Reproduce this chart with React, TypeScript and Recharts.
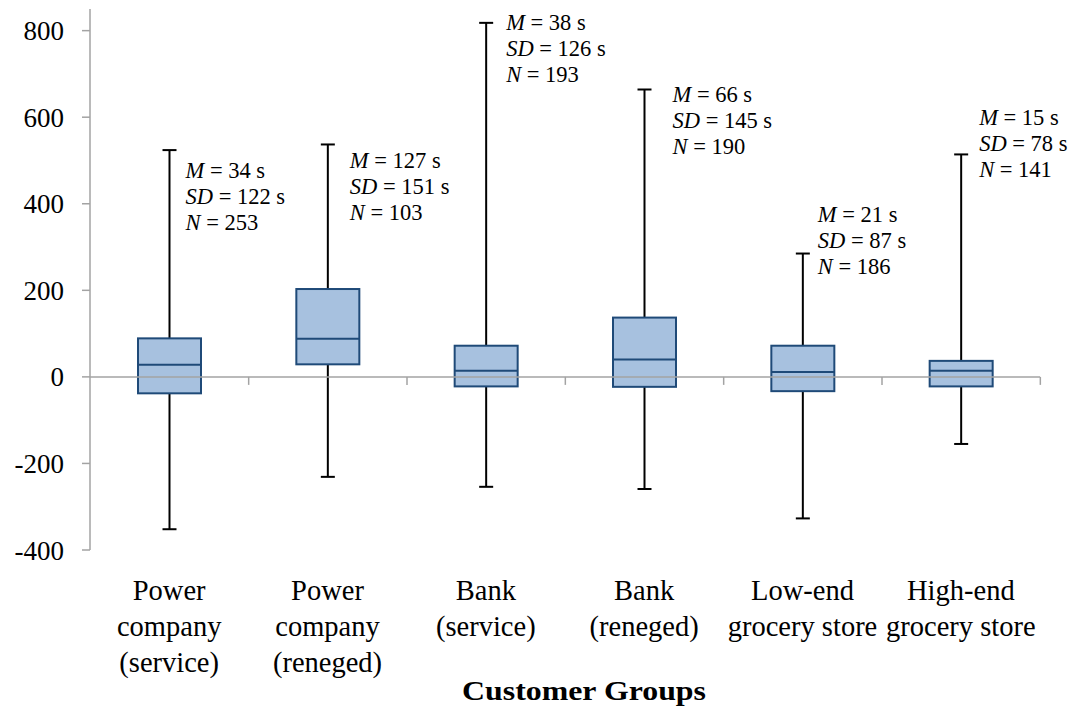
import { ComposedChart, Bar, XAxis, YAxis, ReferenceLine, Label } from "recharts";

const SERIF = "Liberation Serif, Tinos, Times New Roman, DejaVu Serif, serif";

// customer groups, one box per group
const groups = [
  "Power\ncompany\n(service)",
  "Power\ncompany\n(reneged)",
  "Bank\n(service)",
  "Bank\n(reneged)",
  "Low-end\ngrocery store",
  "High-end\ngrocery store",
];

// box plot values in seconds
const whiskerLow = [-352, -231, -254, -259, -327, -155];
const q1 = [-38, 29, -22, -23, -33, -22];
const median = [28, 88, 14, 40, 11, 14];
const q3 = [89, 203, 72, 137, 72, 37];
const whiskerHigh = [524, 537, 818, 664, 285, 514];

// summary stats shown beside each whisker
const meanSec = [34, 127, 38, 66, 21, 15];
const sdSec = [122, 151, 126, 145, 87, 78];
const nCount = [253, 103, 193, 190, 186, 141];

const yTicks = [-400, -200, 0, 200, 400, 600, 800];

// where each stats block sits (value of first line, px right of whisker)
const noteAt = [475, 498, 818, 652, 375, 599];
const noteDx = [16, 22, 20, 28, 15, 18];

const W = 1061;
const H = 698;
const Y_AXIS_W = 82;
const RIGHT = 29;
const PLOT_W = W - Y_AXIS_W - RIGHT;
const BAND = PLOT_W / groups.length;
const AXIS_GREY = "#a3a3a3";
const BOX_FILL = "#a7c1df";
const BOX_EDGE = "#1f4a78";
const NOTE_SIZE = 22.5;

const rows = groups.map((group, i) => ({
  group,
  range: [whiskerLow[i], whiskerHigh[i]],
  low: whiskerLow[i],
  q1: q1[i],
  median: median[i],
  q3: q3[i],
  high: whiskerHigh[i],
  mean: meanSec[i],
  sd: sdSec[i],
  n: nCount[i],
  noteAt: noteAt[i],
  noteDx: noteDx[i],
}));

const BoxShape = (props: any) => {
  const { x, y, width, height, payload } = props;
  const { low, high } = payload;
  // map a value onto the pixel span of the whisker range
  const py = (v: number) => y + ((high - v) / (high - low)) * height;
  const cx = x + width / 2;
  const top = py(payload.q3);
  const bottom = py(payload.q1);
  const zero = py(0);
  const noteX = cx + payload.noteDx;
  const noteY = py(payload.noteAt) + 7;
  const lineGap = 26;
  return (
    <g>
      <line x1={cx + BAND / 2} x2={cx + BAND / 2} y1={zero} y2={zero + 8} stroke={AXIS_GREY} strokeWidth={1.5} />
      <line x1={cx} x2={cx} y1={py(high)} y2={top} stroke="#000" strokeWidth={2} />
      <line x1={cx} x2={cx} y1={bottom} y2={py(low)} stroke="#000" strokeWidth={2} />
      <line x1={cx - 7} x2={cx + 7} y1={py(high)} y2={py(high)} stroke="#000" strokeWidth={2} />
      <line x1={cx - 7} x2={cx + 7} y1={py(low)} y2={py(low)} stroke="#000" strokeWidth={2} />
      <rect x={x} y={top} width={width} height={bottom - top} fill={BOX_FILL} stroke={BOX_EDGE} strokeWidth={2} />
      <line x1={x} x2={x + width} y1={py(payload.median)} y2={py(payload.median)} stroke={BOX_EDGE} strokeWidth={2} />
      <text x={noteX} y={noteY} fontFamily={SERIF} fontSize={NOTE_SIZE} fill="#000">
        <tspan fontStyle="italic">M</tspan>
        <tspan>{` = ${payload.mean} s`}</tspan>
      </text>
      <text x={noteX} y={noteY + lineGap} fontFamily={SERIF} fontSize={NOTE_SIZE} fill="#000">
        <tspan fontStyle="italic">SD</tspan>
        <tspan>{` = ${payload.sd} s`}</tspan>
      </text>
      <text x={noteX} y={noteY + lineGap * 2} fontFamily={SERIF} fontSize={NOTE_SIZE} fill="#000">
        <tspan fontStyle="italic">N</tspan>
        <tspan>{` = ${payload.n}`}</tspan>
      </text>
    </g>
  );
};

const GroupTick = (props: any) => {
  const { x, y, payload } = props;
  const lines = String(payload.value).split("\n");
  return (
    <text x={x} y={y} textAnchor="middle" fontFamily={SERIF} fontSize={28.5} fill="#000">
      {lines.map((line, i) => (
        <tspan key={i} x={x} dy={i === 0 ? 50 : 36}>
          {line}
        </tspan>
      ))}
    </text>
  );
};

const AxisTitle = (props: any) => {
  const { viewBox } = props;
  return (
    <text
      x={viewBox.x + viewBox.width / 2 + 19}
      y={692}
      textAnchor="middle"
      fontFamily={SERIF}
      fontSize={28}
      fontWeight="bold"
      fill="#000"
      textLength={244}
      lengthAdjust="spacingAndGlyphs"
    >
      Customer Groups
    </text>
  );
};

export default function App() {
  return (
    <div style={{ width: W, height: H, fontFamily: SERIF }}>
      <ComposedChart width={W} height={H} data={rows} margin={{ top: 1, right: RIGHT, bottom: 0, left: 0 }}>
        <XAxis
          dataKey="group"
          axisLine={false}
          tickLine={false}
          tickSize={0}
          tickMargin={0}
          interval={0}
          height={H - 1 - 541}
          tick={<GroupTick />}
        >
          <Label content={<AxisTitle />} />
        </XAxis>
        <YAxis
          width={Y_AXIS_W}
          domain={[-400, 850]}
          ticks={yTicks}
          allowDataOverflow
          axisLine={{ stroke: AXIS_GREY, strokeWidth: 1.5 }}
          tickLine={{ stroke: AXIS_GREY, strokeWidth: 1.5 }}
          tickSize={8}
          tickMargin={18}
          tick={{ fontFamily: SERIF, fontSize: 27, fill: "#000" }}
        />
        <Bar dataKey="range" barSize={63} shape={<BoxShape />} isAnimationActive={false} />
        <ReferenceLine y={0} stroke={AXIS_GREY} strokeWidth={1.5} />
      </ComposedChart>
    </div>
  );
}
